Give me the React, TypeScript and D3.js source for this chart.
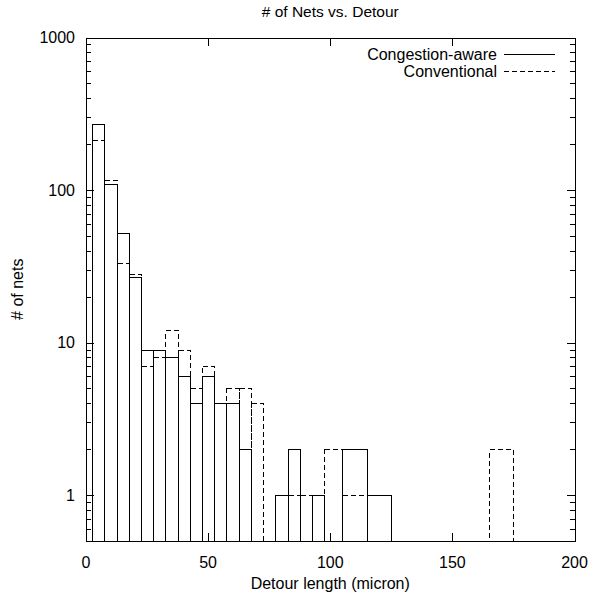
import React from "react";
import * as d3 from "d3";

const WIDTH = 591;
const HEIGHT = 594;
const LEFT = 86;
const RIGHT = 574.5;
const TOP = 37.5;
const BOTTOM = 541;
const FONT = "Liberation Sans, Arial, Helvetica, sans-serif";

// detour bins (micron) and net counts
const awareX = [5, 10, 15, 20, 25, 30, 35, 40, 45, 50, 55, 60, 65, 70, 75, 80, 85, 90, 95, 100, 110, 120];
const awareN = [272, 110, 52, 27, 9, 9, 8, 6, 4, 6, 4, 4, 2, 0, 0, 1, 2, 0, 1, 0, 2, 1];

const convX = [5, 10, 15, 20, 25, 30, 35, 40, 45, 50, 55, 60, 65, 70, 75, 80, 85, 90, 95, 100, 110, 120, 130, 160, 170, 180];
const convN = [213, 117, 33, 28, 7, 8, 12, 9, 5, 7, 4, 5, 5, 4, 0, 0, 1, 1, 0, 2, 1, 1, 0, 0, 2, 0];

const xTicks = [0, 50, 100, 150, 200];
const yTicks = [1, 10, 100, 1000];
const seriesNames = ["Congestion-aware", "Conventional"];

// gnuplot "with boxes": each box reaches halfway to its neighbours
const toBoxes = (xs: number[], ns: number[]) =>
  xs.map((x, i) => {
    const lo = i > 0 ? (xs[i - 1] + x) / 2 : x - (xs[i + 1] - x) / 2;
    const hi = i < xs.length - 1 ? (x + xs[i + 1]) / 2 : x + (x - xs[i - 1]) / 2;
    return {lo, hi, n: ns[i]};
  }).filter((b) => b.n > 0);

const App: React.FC = () => {
  const x = d3.scaleLinear().domain([0, 200]).range([LEFT, RIGHT]);
  const y = d3.scaleLog().domain([0.5, 1000]).range([BOTTOM, TOP]);

  const minor: number[] = [];
  [0.1, 1, 10, 100].forEach((d) => {
    for (let k = 2; k <= 9; k++) {
      const v = d * k;
      if (v > 0.5 && v < 1000) minor.push(v);
    }
  });

  const series = [
    {boxes: toBoxes(awareX, awareN), dash: undefined as string | undefined},
    {boxes: toBoxes(convX, convN), dash: "5,3"},
  ];

  const px = (v: number) => Math.round(v) + 0.5;

  return (
    <svg width={WIDTH} height={HEIGHT} style={{display: "block", position: "absolute", left: 0, top: 0}}
         fontFamily={FONT}>
      <rect width={WIDTH} height={HEIGHT} fill="white"/>
      <text x={(LEFT + RIGHT) / 2} y={12} dy="0.35em" textAnchor="middle" fontSize={15.5}>
        # of Nets vs. Detour
      </text>

      {/* boxes */}
      {series.map((s, si) => (
        <g key={si} fill="none" stroke="black" strokeWidth={1} strokeDasharray={s.dash}
           shapeRendering="crispEdges">
          {s.boxes.map((b, i) => (
            <rect key={i} x={px(x(b.lo))} y={px(y(b.n))}
                  width={Math.round(x(b.hi)) - Math.round(x(b.lo))}
                  height={Math.round(BOTTOM) - Math.round(y(b.n))}/>
          ))}
        </g>
      ))}

      {/* ticks, mirrored on all sides */}
      <g stroke="black" strokeWidth={1} shapeRendering="crispEdges">
        {xTicks.map((t) => (
          <g key={"x" + t}>
            <line x1={px(x(t))} x2={px(x(t))} y1={BOTTOM} y2={BOTTOM - 8}/>
            <line x1={px(x(t))} x2={px(x(t))} y1={TOP} y2={TOP + 8}/>
          </g>
        ))}
        {yTicks.map((t) => (
          <g key={"y" + t}>
            <line x1={LEFT} x2={LEFT + 8} y1={px(y(t))} y2={px(y(t))}/>
            <line x1={RIGHT} x2={RIGHT - 8} y1={px(y(t))} y2={px(y(t))}/>
          </g>
        ))}
        {minor.map((t) => (
          <g key={"m" + t}>
            <line x1={LEFT} x2={LEFT + 4.5} y1={px(y(t))} y2={px(y(t))}/>
            <line x1={RIGHT} x2={RIGHT - 4.5} y1={px(y(t))} y2={px(y(t))}/>
          </g>
        ))}
        <rect x={px(LEFT)} y={px(TOP)} width={Math.round(RIGHT) - Math.round(LEFT)}
              height={Math.round(BOTTOM) - Math.round(TOP)} fill="none"/>
      </g>

      {/* tick labels */}
      {xTicks.map((t) => (
        <text key={"xl" + t} x={x(t)} y={562} dy="0.35em" textAnchor="middle" fontSize={16}>{t}</text>
      ))}
      {yTicks.map((t) => (
        <text key={"yl" + t} x={75} y={y(t)} dy="0.35em" textAnchor="end" fontSize={16}>{t}</text>
      ))}

      <text x={(LEFT + RIGHT) / 2} y={583} dy="0.35em" textAnchor="middle" fontSize={16}>
        Detour length (micron)
      </text>
      <text transform={`translate(17,${(TOP + BOTTOM) / 2}) rotate(-90)`} dy="0.35em" textAnchor="middle"
            fontSize={16}>
        # of nets
      </text>

      {/* legend */}
      {seriesNames.map((name, i) => (
        <g key={name}>
          <text x={497} y={54 + i * 17} dy="0.35em" textAnchor="end" fontSize={16}>{name}</text>
          <line x1={504} x2={555} y1={px(54 + i * 17)} y2={px(54 + i * 17)} stroke="black"
                strokeDasharray={series[i].dash} shapeRendering="crispEdges"/>
        </g>
      ))}
    </svg>
  );
};

export default App;
